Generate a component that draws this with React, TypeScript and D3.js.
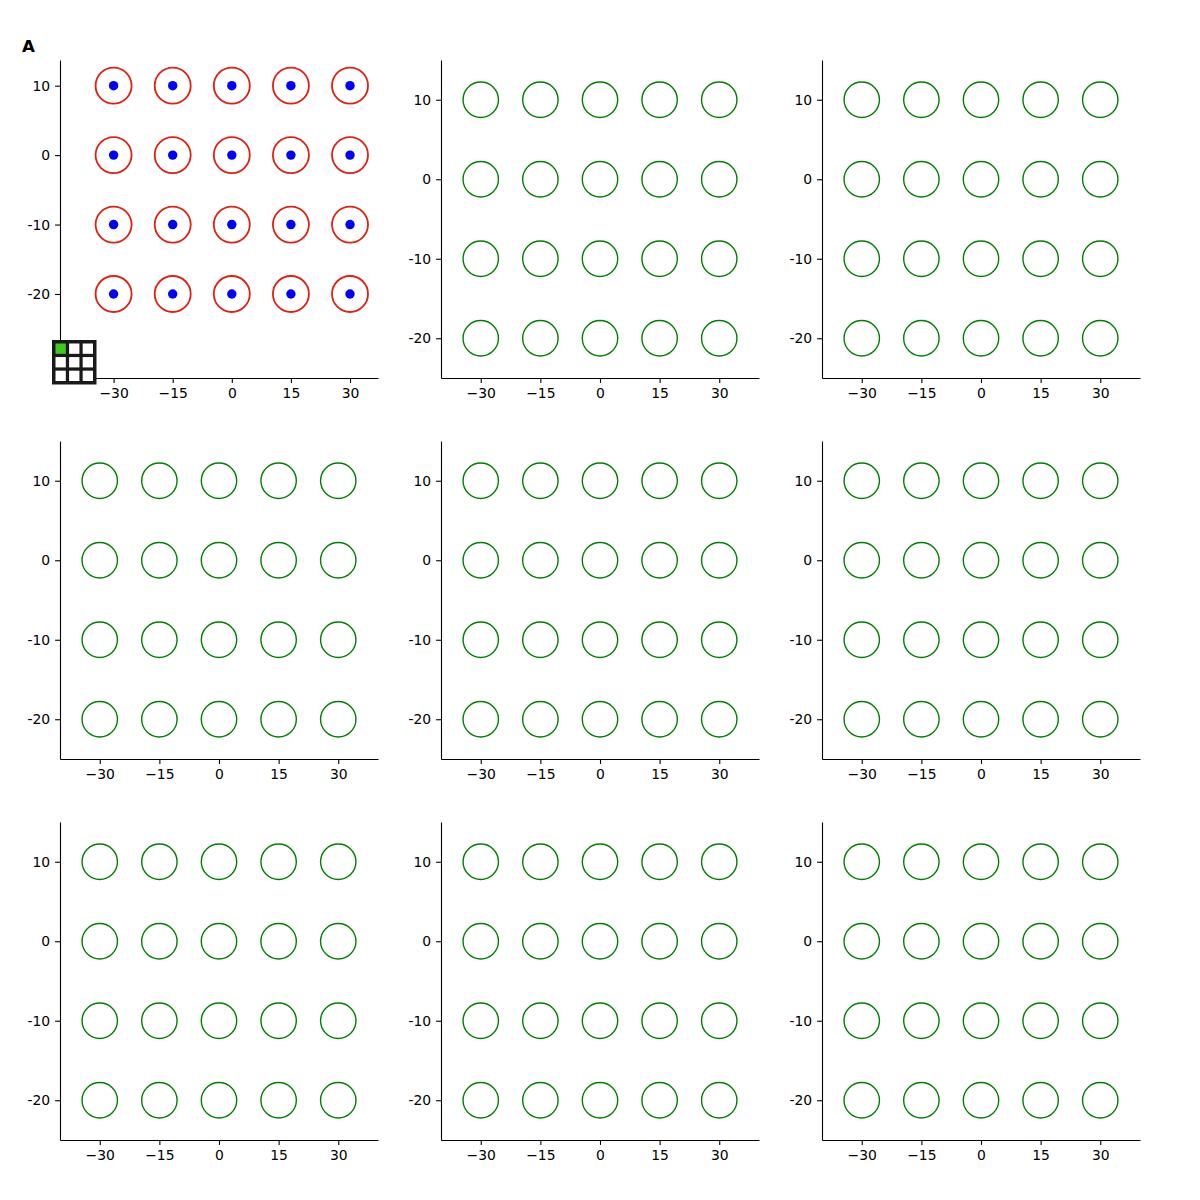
import React, { useRef, useEffect } from 'react';
import * as d3 from 'd3';

// grid of stimulus positions
const xValues = [-30, -15, 0, 15, 30];
const yValues = [10, 0, -10, -20];
const xTicks = [-30, -15, 0, 15, 30];
const yTicks = [10, 0, -10, -20];

// axis limits: first panel differs from the rest
const firstXDomain = [-43.6, 37.1];
const firstYDomain = [-32.1, 13.7];
const restXDomain = [-40, 40];
const restYDomain = [-25, 15];

// inset grid (3x3), highlighted cell index
const insetRows = [0, 1, 2];
const insetCols = [0, 1, 2];
const highlightCell = [0, 0];

const panelIds = [0, 1, 2, 3, 4, 5, 6, 7, 8];

const FONT = '"DejaVu Sans", sans-serif';

function App() {
  const svgRef = useRef<SVGSVGElement>(null);

  useEffect(() => {
    document.body.style.margin = '0';
    const svg = d3.select(svgRef.current);
    svg.selectAll('*').remove();

    const width = 1200;
    const height = 1200;
    svg.attr('width', width).attr('height', height);

    svg.append('rect').attr('width', width).attr('height', height).attr('fill', '#fff');

    const axLeft = [60, 441, 822];
    const axTop = [60, 441, 822];
    const axSize = 318;

    const fmtX = (d: number) => (d < 0 ? '\u2212' + Math.abs(d) : String(d));
    const fmtY = (d: number) => String(d);

    panelIds.forEach(id => {
      const row = Math.floor(id / 3);
      const col = id % 3;
      const first = id === 0;

      const g = svg.append('g')
        .attr('transform', `translate(${axLeft[col]},${axTop[row]})`);

      const x = d3.scaleLinear()
        .domain(first ? firstXDomain : restXDomain)
        .range([0, axSize]);
      const y = d3.scaleLinear()
        .domain(first ? firstYDomain : restYDomain)
        .range([axSize, 0]);

      const points = yValues.flatMap(yv => xValues.map(xv => ({ x: xv, y: yv })));

      // markers
      g.selectAll('circle.ring')
        .data(points)
        .enter()
        .append('circle')
        .attr('class', 'ring')
        .attr('cx', d => x(d.x))
        .attr('cy', d => y(d.y))
        .attr('r', first ? 18 : 17.7)
        .attr('fill', 'none')
        .attr('stroke', first ? '#e02010' : '#008000')
        .attr('stroke-width', first ? 1.8 : 1.4);

      if (first) {
        g.selectAll('circle.dot')
          .data(points)
          .enter()
          .append('circle')
          .attr('class', 'dot')
          .attr('cx', d => x(d.x))
          .attr('cy', d => y(d.y))
          .attr('r', 4.7)
          .attr('fill', '#0000ff');
      }

      // axes
      const xAxis = g.append('g')
        .attr('transform', `translate(0,${axSize})`)
        .call(d3.axisBottom(x).tickValues(xTicks).tickFormat(d => fmtX(+d))
          .tickSizeOuter(0).tickSizeInner(4.9).tickPadding(4.9));
      const yAxis = g.append('g')
        .call(d3.axisLeft(y).tickValues(yTicks).tickFormat(d => fmtY(+d))
          .tickSizeOuter(0).tickSizeInner(4.9).tickPadding(4.9));

      [xAxis, yAxis].forEach(a => {
        a.select('.domain').attr('stroke', '#000').attr('stroke-width', 1.1);
        a.selectAll('.tick line').attr('stroke', '#000').attr('stroke-width', 1.1);
        a.selectAll('.tick text')
          .attr('fill', '#000')
          .style('font-family', FONT)
          .style('font-size', '13.9px');
      });

      if (first) {
        // panel label
        svg.append('text')
          .attr('x', 22)
          .attr('y', 52)
          .style('font-family', FONT)
          .style('font-size', '16.7px')
          .style('font-weight', 'bold')
          .attr('fill', '#000')
          .text('A');

        // inset 3x3 grid
        const insetX = 52;
        const insetY = 340;
        const insetSize = 44.5;
        const border = 3.5;
        const inset = svg.append('g').attr('transform', `translate(${insetX},${insetY})`);
        inset.append('rect')
          .attr('width', insetSize)
          .attr('height', insetSize)
          .attr('fill', '#1a1a1a');
        const band = d3.scaleBand<number>()
          .domain(insetCols)
          .range([border, insetSize - border])
          .paddingInner(0.24);
        const bandY = d3.scaleBand<number>()
          .domain(insetRows)
          .range([border, insetSize - border])
          .paddingInner(0.24);
        const cells = insetRows.flatMap(r => insetCols.map(c => ({ r, c })));
        inset.selectAll('rect.cell')
          .data(cells)
          .enter()
          .append('rect')
          .attr('class', 'cell')
          .attr('x', d => band(d.c) as number)
          .attr('y', d => bandY(d.r) as number)
          .attr('width', band.bandwidth())
          .attr('height', bandY.bandwidth())
          .attr('fill', d => (d.r === highlightCell[0] && d.c === highlightCell[1]) ? '#3ccc1e' : '#fff');
      }
    });
  }, []);

  return <svg ref={svgRef} style={{ display: 'block' }} />;
}

export default App;
